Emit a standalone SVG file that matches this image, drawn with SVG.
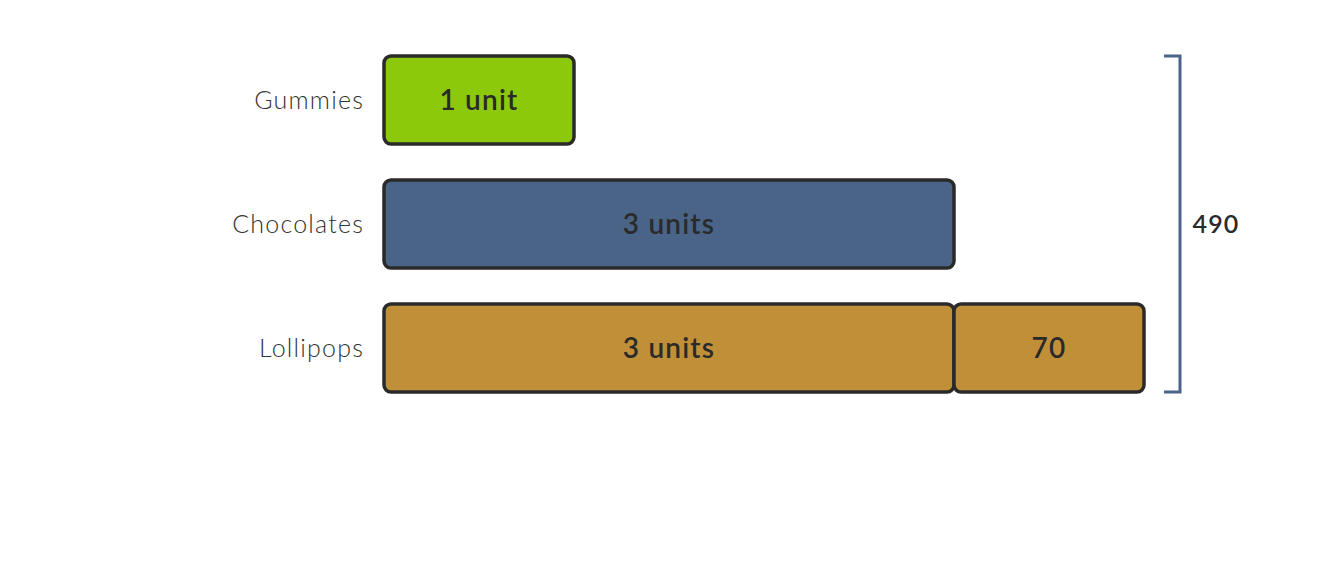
<svg xmlns="http://www.w3.org/2000/svg" width="1328" height="568" viewBox="0 0 1328 568">
<style>
.bar{stroke:#2a2a2a;stroke-width:3.5}
.lbl{font-family:Lato,"Open Sans","Liberation Sans",sans-serif;font-size:25px;font-weight:300;letter-spacing:1.2px;fill:#333;text-anchor:end;dominant-baseline:central}
.val{font-family:Lato,"Open Sans","Liberation Sans",sans-serif;font-size:28px;font-weight:600;letter-spacing:1.2px;fill:#2a2a2a;text-anchor:middle;dominant-baseline:central}
</style>
<rect width="1328" height="568" fill="#fff"/>
<g id="gummies">
<text class="lbl" x="364" y="99">Gummies</text>
<rect class="bar" x="384" y="56" width="190" height="88" rx="7" fill="#8bc90a"/>
<text class="val" x="479" y="99">1 unit</text>
</g>
<g id="chocolates">
<text class="lbl" x="364" y="223">Chocolates</text>
<rect class="bar" x="384" y="180" width="570" height="88" rx="7" fill="#4a6487"/>
<text class="val" x="669" y="223">3 units</text>
</g>
<g id="lollipops">
<text class="lbl" x="364" y="347">Lollipops</text>
<rect class="bar" x="384" y="304" width="570" height="88" rx="7" fill="#c09038"/>
<text class="val" x="669" y="347">3 units</text>
<rect class="bar" x="954" y="304" width="190" height="88" rx="7" fill="#c09038"/>
<text class="val" x="1049" y="347">70</text>
</g>
<g id="connectors">
<path d="M1164 56 H1180 V392 H1164" fill="none" stroke="#4a6489" stroke-width="3"/>
<text class="val" x="1216" y="223" style="font-size:25px">490</text>
</g>
</svg>
